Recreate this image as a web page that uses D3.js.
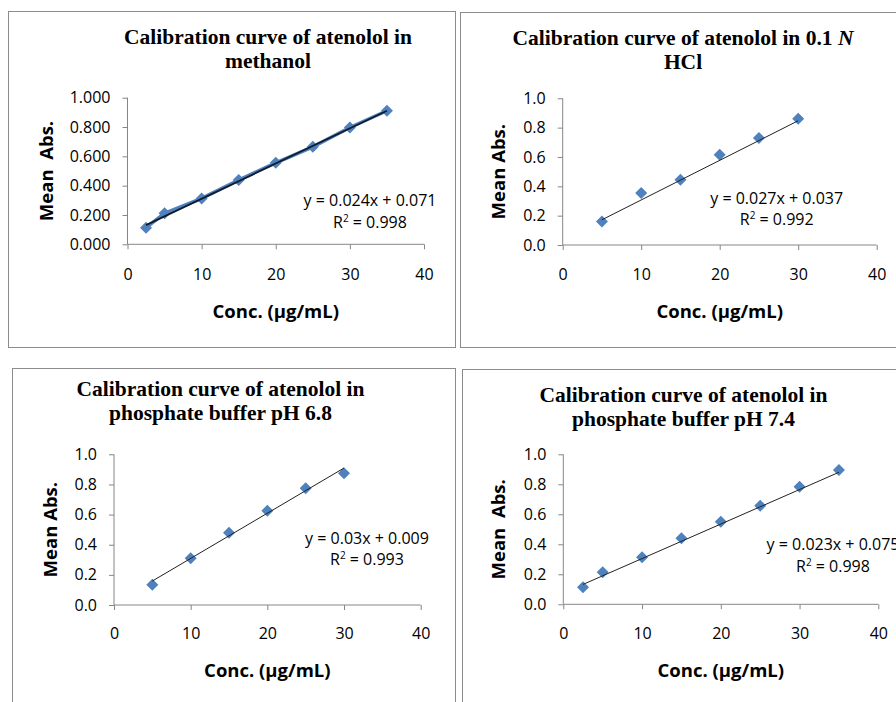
<!DOCTYPE html>
<html lang="en">
<head>
    <meta charset="UTF-8">
    <title>Calibration curves of atenolol</title>
    <script src="https://d3js.org/d3.v7.min.js"></script>
    <style>
        body {
            margin: 0;
            padding: 0;
            background-color: #ffffff;
        }
        .frame {
            fill: none;
            stroke: #8c8c8c;
            stroke-width: 1px;
        }
        .title {
            font-family: "Liberation Serif", "Times New Roman", serif;
            font-weight: bold;
            font-size: 21.5px;
            fill: #000;
        }
        .tick text {
            font-family: "Open Sans", "Liberation Sans", sans-serif;
            font-size: 16px;
            fill: #000;
        }
        .domain, .tick line {
            stroke: #868686;
        }
        .axis-title {
            font-family: "Open Sans", "Liberation Sans", sans-serif;
            font-weight: bold;
            font-size: 18.5px;
            fill: #000;
        }
        .eq {
            font-family: "Open Sans", "Liberation Sans", sans-serif;
            font-size: 16px;
            fill: #000;
        }
    </style>
</head>
<body>
    <script>
        const width = 896;
        const height = 702;

        // data
        const concMeOH = [2.5, 5, 10, 15, 20, 25, 30, 35];
        const absMeOH = [0.113, 0.211, 0.313, 0.438, 0.556, 0.665, 0.797, 0.911];

        const concHCl = [5, 10, 15, 20, 25, 30];
        const absHCl = [0.160, 0.355, 0.445, 0.615, 0.730, 0.860];

        const concPB68 = [5, 10, 15, 20, 25, 30];
        const absPB68 = [0.135, 0.310, 0.480, 0.625, 0.775, 0.875];

        const concPB74 = [2.5, 5, 10, 15, 20, 25, 30, 35];
        const absPB74 = [0.113, 0.213, 0.313, 0.440, 0.551, 0.657, 0.784, 0.895];

        const slopes = [0.024, 0.027, 0.03, 0.023];
        const intercepts = [0.071, 0.037, 0.009, 0.075];
        const r2Values = [0.998, 0.992, 0.993, 0.998];

        const xTicks = [0, 10, 20, 30, 40];
        const yTicks = [0, 0.2, 0.4, 0.6, 0.8, 1.0];
        const xTitle = "Conc. (µg/mL)";
        const yTitles = ["Mean\u00a0 Abs.", "Mean Abs.", "Mean Abs.", "Mean\u00a0 Abs."];

        const panels = [
            {
                conc: concMeOH, abs: absMeOH, yFormat: ".3f", joined: true,
                title: [["Calibration curve of atenolol in"], ["methanol"]],
                box: [8, 11, 447, 336],
                plot: { left: 127.5, right: 424, top: 97.7, bottom: 244.3 },
                titleX: 268, titleY: [44, 68],
                xPad: 19, xTitleY: 318, yTitleX: 53,
                eqX: 370, eqY: [206, 228]
            },
            {
                conc: concHCl, abs: absHCl, yFormat: ".1f", joined: false,
                title: [["Calibration curve of atenolol in 0.1 ", "N"], ["HCl"]],
                box: [460, 12, 450, 335],
                plot: { left: 562.7, right: 876.7, top: 98.3, bottom: 245 },
                titleX: 683, titleY: [45, 69],
                xPad: 19, xTitleY: 318, yTitleX: 505,
                eqX: 776.7, eqY: [204, 225]
            },
            {
                conc: concPB68, abs: absPB68, yFormat: ".1f", joined: false,
                title: [["Calibration curve of atenolol in"], ["phosphate buffer pH 6.8"]],
                box: [12, 368, 443, 340],
                plot: { left: 114, right: 420.7, top: 454.3, bottom: 605 },
                titleX: 220.5, titleY: [396, 420],
                xPad: 18, xTitleY: 677, yTitleX: 56.5,
                eqX: 367, eqY: [544, 565]
            },
            {
                conc: concPB74, abs: absPB74, yFormat: ".1f", joined: false,
                title: [["Calibration curve of atenolol in"], ["phosphate buffer pH 7.4"]],
                box: [462, 369, 450, 340],
                plot: { left: 563.3, right: 878.3, top: 454.3, bottom: 604.3 },
                titleX: 683.5, titleY: [402, 426],
                xPad: 18, xTitleY: 677, yTitleX: 505,
                eqX: 833, eqY: [550, 572]
            }
        ];

        const svg = d3.select("body")
            .append("svg")
            .attr("width", width)
            .attr("height", height);

        function diamond(r) {
            return `M0,${-r}L${r},0L0,${r}L${-r},0Z`;
        }

        panels.forEach((p, i) => {
            const g = svg.append("g");

            g.append("rect")
                .attr("class", "frame")
                .attr("x", p.box[0] + 0.5)
                .attr("y", p.box[1] + 0.5)
                .attr("width", p.box[2])
                .attr("height", p.box[3]);

            // title
            p.title.forEach((line, k) => {
                const t = g.append("text")
                    .attr("class", "title")
                    .attr("x", p.titleX)
                    .attr("y", p.titleY[k])
                    .attr("text-anchor", "middle");
                t.append("tspan").text(line[0]);
                if (line[1]) t.append("tspan").attr("font-style", "italic").text(line[1]);
            });

            const x = d3.scaleLinear().domain([0, 40]).range([p.plot.left, p.plot.right]);
            const y = d3.scaleLinear().domain([0, 1]).range([p.plot.bottom, p.plot.top]);

            g.append("g")
                .attr("transform", `translate(0,${p.plot.bottom})`)
                .call(d3.axisBottom(x).tickValues(xTicks).tickSize(5).tickPadding(p.xPad))
                .call(a => a.selectAll(".domain").attr("d", `M${p.plot.left},0H${p.plot.right}`));

            g.append("g")
                .attr("transform", `translate(${p.plot.left},0)`)
                .call(d3.axisLeft(y).tickValues(yTicks).tickFormat(d3.format(p.yFormat)).tickSize(5).tickPadding(12))
                .call(a => a.selectAll(".domain").attr("d", `M0,${p.plot.top}V${p.plot.bottom}`));

            g.append("text")
                .attr("class", "axis-title")
                .attr("x", (p.plot.left + p.plot.right) / 2)
                .attr("y", p.xTitleY)
                .attr("text-anchor", "middle")
                .text(xTitle);

            g.append("text")
                .attr("class", "axis-title")
                .attr("transform", `translate(${p.yTitleX},${(p.plot.top + p.plot.bottom) / 2}) rotate(-90)`)
                .attr("text-anchor", "middle")
                .text(yTitles[i]);

            const pts = p.conc.map((c, k) => [c, p.abs[k]]);

            if (p.joined) {
                g.append("path")
                    .datum(pts)
                    .attr("fill", "none")
                    .attr("stroke", "#4f81bd")
                    .attr("stroke-width", 3.5)
                    .attr("d", d3.line().x(d => x(d[0])).y(d => y(d[1])));
            }

            g.selectAll(".pt")
                .data(pts)
                .enter()
                .append("path")
                .attr("class", "pt")
                .attr("transform", d => `translate(${x(d[0])},${y(d[1])})`)
                .attr("d", diamond(6))
                .attr("fill", "#4f81bd");

            // linear trendline
            const x0 = d3.min(p.conc), x1 = d3.max(p.conc);
            g.append("line")
                .attr("x1", x(x0)).attr("y1", y(slopes[i] * x0 + intercepts[i]))
                .attr("x2", x(x1)).attr("y2", y(slopes[i] * x1 + intercepts[i]))
                .attr("stroke", p.joined ? "#111a2a" : "#222")
                .attr("stroke-width", p.joined ? 1.8 : 1);

            g.append("text")
                .attr("class", "eq")
                .attr("x", p.eqX)
                .attr("y", p.eqY[0])
                .attr("text-anchor", "middle")
                .text(`y = ${slopes[i]}x + ${intercepts[i]}`);

            const r = g.append("text")
                .attr("class", "eq")
                .attr("x", p.eqX)
                .attr("y", p.eqY[1])
                .attr("text-anchor", "middle");
            r.append("tspan").text("R");
            r.append("tspan").attr("font-size", "10px").attr("dy", -6).text("2");
            r.append("tspan").attr("dy", 6).text(" = " + r2Values[i]);
        });
    </script>
</body>
</html>
